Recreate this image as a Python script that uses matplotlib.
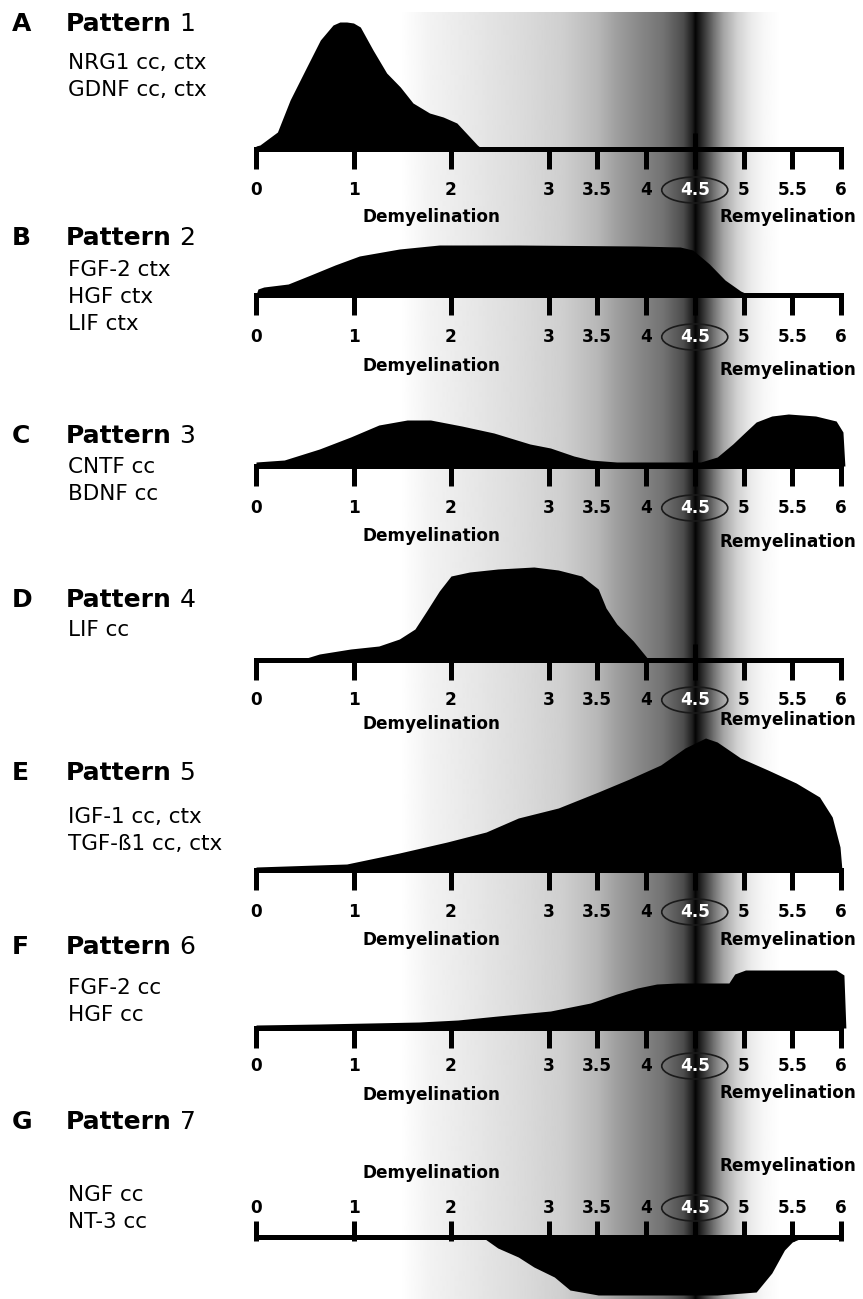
import numpy as np
import matplotlib
matplotlib.use("Agg")
import matplotlib.pyplot as plt
import matplotlib.transforms as mtransforms
from matplotlib.patches import Ellipse

W, H = 863, 1299
X0, PX_PER_WEEK = 256, 97.5   # where week 0 sits and how wide a week is

ticks = [0, 1, 2, 3, 3.5, 4, 4.5, 5, 5.5, 6]
tick_labels = ["0", "1", "2", "3", "3.5", "4", "4.5", "5", "5.5", "6"]

letters = ["A", "B", "C", "D", "E", "F", "G"]
pattern_nums = ["1", "2", "3", "4", "5", "6", "7"]
factors = [
    ["NRG1 cc, ctx", "GDNF cc, ctx"],
    ["FGF-2 ctx", "HGF ctx", "LIF ctx"],
    ["CNTF cc", "BDNF cc"],
    ["LIF cc"],
    ["IGF-1 cc, ctx", "TGF-\u00df1 cc, ctx"],
    ["FGF-2 cc", "HGF cc"],
    ["NGF cc", "NT-3 cc"],
]

# expression profiles (week, relative level)
p1_week = [0, 0.04, 0.22, 0.35, 0.52, 0.66, 0.79, 0.86, 0.93, 1.0, 1.07, 1.2, 1.34,
           1.48, 1.61, 1.78, 1.92, 2.06, 2.27, 2.32]
p1_level = [3, 4, 17, 49, 82, 109, 124, 127, 127, 126, 122, 99, 76, 62, 46, 36, 32, 26, 4, 0]

p2_week = [0, 0.02, 0.08, 0.33, 0.56, 0.81, 1.06, 1.47, 1.88, 2.69, 3.91, 4.35, 4.48,
           4.65, 4.81, 4.97, 5.06]
p2_level = [0, 6, 8, 11, 20, 30, 39, 46, 50, 50, 49, 48, 45, 31, 15, 4, 0]

p3_week = [0, 0.29, 0.65, 0.97, 1.26, 1.55, 1.79, 2.11, 2.44, 2.81, 3.02, 3.26, 3.43,
           3.70, 4.32, 4.56, 4.73, 4.89, 5.02, 5.13, 5.29, 5.46, 5.74, 5.95, 6.02, 6.04]
p3_level = [4, 6, 17, 29, 41, 46, 46, 40, 33, 22, 18, 10, 6, 4, 4, 4, 9, 22, 34, 44,
            50, 52, 50, 45, 34, 0]

p4_week = [0.45, 0.65, 0.97, 1.26, 1.47, 1.63, 1.75, 1.88, 2.0, 2.19, 2.48, 2.85, 3.10,
           3.34, 3.51, 3.59, 3.70, 3.87, 4.03]
p4_level = [0, 6, 11, 14, 21, 31, 49, 69, 84, 88, 91, 93, 90, 84, 71, 52, 36, 19, 0]

p5_week = [0, 0.93, 1.47, 1.96, 2.36, 2.69, 3.10, 3.51, 3.83, 4.15, 4.40, 4.61, 4.73,
           4.97, 5.25, 5.54, 5.78, 5.91, 5.99, 6.01]
p5_level = [3, 6, 17, 28, 38, 52, 62, 78, 91, 105, 122, 132, 128, 112, 100, 87, 73, 53, 23, 0]

p6_week = [0, 0.65, 1.67, 2.07, 2.48, 3.02, 3.43, 3.70, 3.91, 4.11, 4.32, 4.85, 4.91,
           5.02, 5.95, 6.03, 6.05]
p6_level = [3, 4, 6, 8, 12, 17, 25, 34, 40, 44, 45, 45, 54, 58, 58, 53, 0]

p7_week = [2.32, 2.48, 2.69, 2.85, 3.06, 3.22, 3.51, 4.73, 5.13, 5.29, 5.42, 5.50, 5.62]
p7_level = [0, -11, -20, -30, -40, -53, -58, -58, -55, -36, -13, -5, 0]

profiles = [(p1_week, p1_level), (p2_week, p2_level), (p3_week, p3_level),
            (p4_week, p4_level), (p5_week, p5_level), (p6_week, p6_level),
            (p7_week, p7_level)]

# panel layout, pixel rows: axis, title, factor lines, tick labels, demyel., remyel.
layout = [
    dict(base=149, title=24, genes=63, labels=190, dem=217, rem=217),
    dict(base=295, title=238, genes=270, labels=337, dem=366, rem=370),
    dict(base=466, title=436, genes=467, labels=508, dem=536, rem=542),
    dict(base=660, title=600, genes=630, labels=700, dem=724, rem=720),
    dict(base=870, title=773, genes=817, labels=912, dem=940, rem=940),
    dict(base=1028, title=947, genes=988, labels=1066, dem=1095, rem=1093),
    dict(base=1237, title=1122, genes=1195, labels=1208, dem=1173, rem=1166),
]

# grey band behind the panels (week, grey value)
band_week = [1.48, 1.78, 2.30, 2.71, 3.15, 3.5, 3.7, 3.97, 4.17, 4.38, 4.47, 4.5,
             4.56, 4.69, 4.79, 4.93, 5.07, 5.2, 5.37]
band_grey = [1.0, 0.95, 0.90, 0.86, 0.81, 0.72, 0.62, 0.52, 0.45, 0.30, 0.12, 0.02,
             0.15, 0.45, 0.65, 0.82, 0.92, 0.97, 1.0]

fig = plt.figure(figsize=(W / 100, H / 100), dpi=100)
ax = fig.add_axes([0, 0, 1, 1])
xmin = -X0 / PX_PER_WEEK
xmax = (W - X0) / PX_PER_WEEK
ax.set_xlim(xmin, xmax)
ax.set_ylim(H, 0)
ax.axis("off")

cols = np.linspace(xmin, xmax, W * 2)
grad = np.interp(cols, band_week, band_grey)
ax.imshow(grad[np.newaxis, :], extent=[xmin, xmax, H, 12], aspect="auto",
          cmap="gray", vmin=0, vmax=1, interpolation="bilinear", zorder=0)

left = mtransforms.blended_transform_factory(ax.transAxes, ax.transData)
lw = 3.6

for i, (wk, lev) in enumerate(profiles):
    L = layout[i]
    base = L["base"]
    wk = np.array(wk)
    lev = np.array(lev)
    ax.fill_between(wk, base, base - lev, color="black", lw=0, zorder=2)

    ax.plot([0, 6], [base, base], color="black", lw=lw, solid_capstyle="projecting", zorder=3)
    if i < 6:
        ax.vlines(ticks, base, base + 20, color="black", lw=lw, zorder=3)
        ax.vlines([4.5], base - 16, base, color="black", lw=lw, zorder=3)
    else:
        ax.vlines(ticks, base - 16, base + 4, color="black", lw=lw, zorder=3)

    for t, lab in zip(ticks, tick_labels):
        c = "white" if lab == "4.5" else "black"
        ax.text(t, L["labels"], lab, ha="center", va="center", fontsize=12.2,
                fontweight="bold", color=c, zorder=5)
    ax.add_patch(Ellipse((4.5, L["labels"]), 66 / PX_PER_WEEK, 26, fill=False,
                         ec="#1a1a1a", lw=1.2, zorder=4))

    ax.text(431 / W * (xmax - xmin) + xmin, L["dem"], "Demyelination", ha="center",
            va="center", fontsize=12.2, fontweight="bold", zorder=5)
    ax.text(788 / W * (xmax - xmin) + xmin, L["rem"], "Remyelination", ha="center",
            va="center", fontsize=12.2, fontweight="bold", zorder=5)

    ax.text(12 / W, L["title"], letters[i], transform=left, ha="left", va="center",
            fontsize=18, fontweight="bold")
    tt = ax.text(66 / W, L["title"], "Pattern", transform=left, ha="left", va="center",
                 fontsize=18, fontweight="bold")
    ax.annotate(" " + pattern_nums[i], xy=(1, 0), xycoords=tt, ha="left", va="bottom",
                fontsize=18)
    for j, g in enumerate(factors[i]):
        ax.text(68 / W, L["genes"] + 27 * j, g, transform=left, ha="left", va="center",
                fontsize=15.5)

fig.savefig("out.png", dpi=100)
